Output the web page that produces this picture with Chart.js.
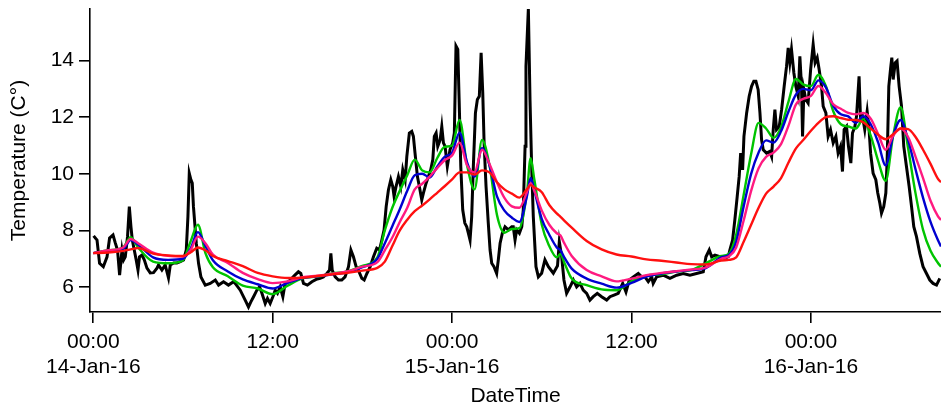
<!DOCTYPE html>
<html>
<head>
<meta charset="utf-8">
<title>Temperature</title>
<script src="https://cdn.jsdelivr.net/npm/chart.js@4.4.1/dist/chart.umd.min.js"></script>
<style>
  html, body { margin: 0; padding: 0; background: #fff; }
  #wrap { width: 941px; height: 411px; }
</style>
</head>
<body>
<div id="wrap"><canvas id="tempChart" width="941" height="411"></canvas></div>
<script>
// ===== Data (time in hours since 14-Jan-16 00:00) =====

// raw logger readings
var rawHours = [
  0.02, 0.25, 0.42, 0.67, 0.92, 1.09, 1.32, 1.47, 1.62, 1.76,
  1.92, 2.03, 2.14, 2.29, 2.41, 2.52, 2.61, 2.74, 2.87, 2.99,
  3.09, 3.26, 3.41, 3.59, 3.81, 4.03, 4.26, 4.36, 4.59, 4.81,
  5.03, 5.15, 5.37, 5.59, 5.82, 6.04, 6.22, 6.33, 6.42, 6.53,
  6.62, 6.70, 6.89, 7.04, 7.20, 7.49, 7.82, 8.16, 8.38, 8.71,
  9.04, 9.38, 9.49, 9.83, 10.16, 10.38, 10.54, 10.72, 10.94, 11.12,
  11.28, 11.50, 11.65, 11.83, 12.01, 12.17, 12.32, 12.50, 12.68, 12.83,
  13.05, 13.28, 13.50, 13.72, 13.88, 14.06, 14.32, 14.62, 14.91, 15.17,
  15.39, 15.62, 15.80, 15.89, 15.98, 16.18, 16.40, 16.62, 16.84, 17.07,
  17.23, 17.40, 17.58, 17.73, 17.96, 18.12, 18.30, 18.52, 18.74, 18.96,
  19.14, 19.30, 19.45, 19.59, 19.74, 19.90, 20.03, 20.12, 20.25, 20.41,
  20.57, 20.70, 20.86, 20.97, 21.14, 21.30, 21.41, 21.52, 21.68, 21.81,
  21.97, 22.08, 22.26, 22.41, 22.57, 22.71, 22.81, 22.93, 23.04, 23.20,
  23.31, 23.42, 23.53, 23.68, 23.86, 24.04, 24.15, 24.26, 24.38, 24.47,
  24.58, 24.71, 24.85, 24.98, 25.09, 25.20, 25.31, 25.42, 25.56, 25.69,
  25.82, 25.94, 26.05, 26.14, 26.27, 26.42, 26.54, 26.65, 26.80, 26.98,
  27.09, 27.21, 27.36, 27.54, 27.76, 27.99, 28.09, 28.21, 28.32, 28.50,
  28.66, 28.76, 28.88, 28.94, 29.10, 29.21, 29.32, 29.43, 29.61, 29.77,
  29.99, 30.21, 30.44, 30.77, 31.05, 31.17, 31.33, 31.48, 31.66, 31.89,
  32.11, 32.33, 32.55, 32.77, 33.00, 33.22, 33.44, 33.71, 34.00, 34.34,
  34.56, 34.83, 35.11, 35.41, 35.63, 35.85, 36.12, 36.45, 36.68, 36.90,
  37.12, 37.35, 37.45, 37.68, 38.12, 38.57, 39.02, 39.46, 39.91, 40.35,
  40.80, 40.98, 41.20, 41.36, 41.58, 41.91, 42.25, 42.47, 42.58, 42.76,
  42.91, 43.07, 43.20, 43.30, 43.43, 43.52, 43.70, 43.87, 44.03, 44.18,
  44.32, 44.47, 44.59, 44.70, 44.81, 45.03, 45.25, 45.37, 45.48, 45.59,
  45.70, 45.88, 46.04, 46.21, 46.37, 46.48, 46.59, 46.70, 46.86, 46.99,
  47.15, 47.26, 47.37, 47.44, 47.53, 47.66, 47.81, 47.98, 48.15, 48.28,
  48.42, 48.55, 48.71, 48.82, 49.00, 49.15, 49.31, 49.49, 49.67, 49.82,
  49.98, 50.11, 50.22, 50.38, 50.51, 50.67, 50.78, 50.94, 51.05, 51.22,
  51.32, 51.45, 51.60, 51.76, 51.89, 51.99, 52.16, 52.34, 52.47, 52.61,
  52.72, 52.87, 53.01, 53.10, 53.21, 53.32, 53.41, 53.50, 53.64, 53.76,
  53.90, 54.06, 54.21, 54.39, 54.57, 54.73, 54.88, 55.06, 55.28, 55.50,
  55.73, 55.95, 56.17, 56.40, 56.62
];
var rawTemp = [
  7.81, 7.66, 6.84, 6.72, 7.07, 7.73, 7.84, 7.56, 7.31, 6.42,
  7.31, 6.96, 7.07, 7.78, 8.84, 8.13, 7.66, 7.31, 6.96, 6.60,
  7.07, 7.13, 6.96, 6.67, 6.50, 6.51, 6.67, 6.78, 6.60, 6.78,
  6.32, 6.78, 6.85, 6.85, 6.90, 6.96, 7.31, 8.49, 10.02, 9.79,
  9.67, 8.84, 7.55, 6.84, 6.36, 6.07, 6.13, 6.25, 6.07, 6.19,
  6.07, 6.19, 6.13, 5.89, 5.54, 5.30, 5.48, 5.66, 5.89, 6.01,
  5.78, 5.42, 5.60, 5.42, 5.66, 5.89, 5.78, 6.01, 5.66, 6.13,
  6.19, 6.31, 6.43, 6.54, 6.48, 6.13, 6.07, 6.19, 6.27, 6.31,
  6.36, 6.48, 6.60, 7.19, 6.60, 6.36, 6.25, 6.25, 6.36, 6.72,
  7.31, 7.07, 6.72, 6.60, 6.31, 6.25, 6.48, 6.72, 7.07, 7.37,
  7.31, 7.66, 8.02, 8.84, 9.43, 9.79, 9.55, 9.20, 9.55, 9.90,
  9.55, 10.14, 9.79, 10.61, 11.44, 11.50, 11.32, 10.73, 9.90, 9.55,
  9.08, 9.32, 9.67, 9.90, 10.14, 10.50, 11.32, 11.44, 10.97, 11.20,
  11.67, 11.09, 10.97, 10.26, 10.85, 11.09, 11.44, 14.51, 14.39, 12.62,
  10.26, 8.73, 8.26, 8.13, 7.90, 7.66, 8.49, 10.26, 12.15, 12.62,
  12.74, 14.27, 12.86, 11.09, 9.55, 8.26, 7.31, 6.84, 6.72, 6.48,
  6.96, 7.55, 7.90, 8.13, 8.02, 8.13, 8.13, 7.66, 8.02, 7.90,
  8.13, 8.73, 10.97, 13.80, 15.83, 12.62, 10.26, 8.49, 6.72, 6.36,
  6.49, 6.96, 6.72, 6.49, 6.75, 7.60, 7.07, 6.25, 5.78, 6.01,
  6.25, 6.01, 6.13, 5.89, 5.78, 5.54, 5.66, 5.78, 5.66, 5.54,
  5.66, 5.72, 5.78, 6.13, 5.83, 6.25, 6.36, 6.48, 6.36, 6.36,
  6.19, 6.36, 6.13, 6.36, 6.42, 6.31, 6.42, 6.48, 6.42, 6.48,
  6.54, 7.07, 7.31, 7.07, 7.13, 7.07, 7.02, 7.07, 7.31, 7.66,
  8.37, 9.20, 9.90, 10.73, 10.14, 11.32, 12.15, 12.74, 13.09, 13.27,
  13.27, 12.97, 12.15, 11.20, 10.85, 10.73, 10.79, 10.61, 11.56, 12.27,
  11.56, 11.67, 12.27, 13.09, 13.80, 14.45, 13.92, 14.39, 13.56, 13.09,
  12.74, 14.15, 13.09, 11.32, 12.97, 12.62, 12.50, 13.68, 14.57, 13.92,
  14.10, 13.68, 13.09, 12.38, 12.15, 11.32, 11.56, 11.09, 11.32, 10.73,
  10.97, 10.08, 11.56, 11.67, 10.97, 10.38, 11.44, 11.67, 12.03, 13.44,
  11.91, 12.03, 11.56, 12.21, 11.56, 10.73, 10.02, 9.79, 9.32, 8.96,
  8.61, 8.84, 9.32, 10.50, 13.09, 13.68, 14.10, 13.33, 13.92, 13.98,
  13.09, 12.38, 10.97, 10.26, 9.55, 8.84, 8.13, 7.78, 7.19, 6.72,
  6.48, 6.25, 6.13, 6.07, 6.31
];

// smoothed series, all on one time base
var smoothHours = [
  0, 1, 2, 2.5, 3, 4, 5, 6, 6.5, 7,
  7.5, 8, 9, 10, 11, 12, 13, 14, 15, 16,
  17, 18, 19, 19.5, 20, 20.5, 21, 21.5, 22, 22.5,
  23, 23.5, 24, 24.5, 25, 25.5, 26, 26.5, 27, 27.5,
  28, 28.5, 29, 29.25, 29.5, 30, 30.5, 31, 31.25, 31.5,
  32, 33, 34, 35, 36, 37, 38, 39, 40, 41,
  42, 42.5, 43, 43.5, 44, 44.5, 45, 45.5, 46, 46.5,
  47, 47.5, 48, 48.5, 49, 49.5, 50, 50.5, 51, 51.5,
  52, 52.5, 53, 53.5, 54, 54.5, 55, 55.5, 56, 56.5,
  56.7
];
var greenTemp = [
  7.2, 7.3, 7.4, 7.76, 7.4, 6.9, 6.84, 6.95, 7.6, 8.2,
  7.2, 6.7, 6.38, 6.05, 5.95, 5.75, 6.05, 6.31, 6.37, 6.48,
  6.55, 6.75, 7.05, 8.0, 8.8, 9.4, 9.95, 10.5, 10.12, 10.05,
  10.55, 10.95, 11.0, 11.9, 10.3, 9.45, 11.2, 10.3, 8.55, 7.92,
  8.05, 8.08, 9.3, 10.55, 9.8, 8.2, 7.45, 7.05, 7.17, 6.87,
  6.3, 6.07, 5.92, 5.89, 6.2, 6.4, 6.45, 6.55, 6.6, 6.85,
  7.1, 7.17, 7.85, 9.25, 10.7, 11.8, 11.6, 11.27, 11.65, 12.55,
  13.35, 13.15, 13.1, 13.5, 13.1, 12.2, 11.75, 11.67, 11.6, 11.93,
  11.35, 10.45, 9.75, 11.35, 12.35, 10.9, 9.3, 8.02, 7.28, 6.85,
  6.72
];
var blueTemp = [
  7.2, 7.28, 7.35, 7.66, 7.5, 7.05, 6.96, 7.0, 7.35, 7.94,
  7.45, 6.95, 6.55, 6.27, 6.1, 5.95, 6.15, 6.32, 6.38, 6.45,
  6.52, 6.7, 7.0, 7.55, 8.15, 8.75, 9.4, 9.95, 10.0, 9.87,
  10.25, 10.6, 10.75, 11.45, 10.4, 9.9, 10.9, 10.3, 9.2, 8.7,
  8.45, 8.3, 9.2, 9.85, 9.4, 8.4, 7.85, 7.4, 7.3, 7.05,
  6.65, 6.3, 6.12, 5.98, 6.15, 6.37, 6.48, 6.55, 6.6, 6.68,
  7.05, 7.13, 7.6, 8.85, 10.0, 10.75, 11.18, 11.1, 11.5, 12.2,
  12.8, 13.0, 12.95, 13.3, 13.05, 12.4, 12.1, 12.03, 11.8, 12.03,
  11.75, 11.1, 10.3, 11.35, 11.9, 11.2, 10.15, 9.15, 8.3, 7.65,
  7.43
];
var pinkTemp = [
  7.2, 7.3, 7.4, 7.7, 7.55, 7.22, 7.1, 7.08, 7.3, 7.78,
  7.55, 7.15, 6.85, 6.5, 6.28, 6.14, 6.2, 6.35, 6.4, 6.47,
  6.55, 6.72, 6.88, 7.3, 7.75, 8.3, 8.8, 9.45, 9.65, 9.9,
  10.2, 10.48, 10.65, 11.1, 10.3, 10.05, 10.85, 10.35, 9.7, 9.15,
  8.85, 8.8, 9.35, 9.67, 9.4, 8.7, 8.2, 7.9, 7.82, 7.55,
  7.1, 6.6, 6.38, 6.2, 6.3, 6.42, 6.5, 6.56, 6.62, 6.7,
  7.0, 7.08, 7.4, 8.35, 9.4, 10.2, 10.6, 10.75, 11.05, 11.7,
  12.45, 12.65, 12.75, 13.1, 12.85, 12.45, 12.3, 12.15, 12.1, 12.15,
  11.95, 11.4, 10.85, 11.35, 11.6, 11.3, 10.6, 9.85, 9.05, 8.5,
  8.37
];
var redTemp = [
  7.2, 7.22, 7.28, 7.33, 7.38, 7.18, 7.12, 7.1, 7.22, 7.4,
  7.3, 7.1, 6.92, 6.74, 6.5, 6.38, 6.32, 6.33, 6.39, 6.45,
  6.5, 6.58, 6.68, 6.9, 7.45, 8.0, 8.38, 8.68, 8.88, 9.1,
  9.33, 9.56, 9.8, 10.05, 10.05, 9.97, 10.12, 10.05, 9.7, 9.45,
  9.3, 9.16, 9.45, 9.6, 9.52, 9.35, 8.9, 8.6, 8.48, 8.35,
  8.1, 7.63, 7.33, 7.15, 7.08, 6.98, 6.93, 6.87, 6.81, 6.8,
  6.94, 6.96, 7.05, 7.6, 8.2, 8.8, 9.3, 9.55, 9.85, 10.4,
  10.9, 11.2, 11.52, 11.8, 12.0, 12.03, 11.97, 11.91, 11.9, 11.82,
  11.6, 11.38, 11.22, 11.4, 11.6, 11.58, 11.3, 10.85, 10.35, 9.82,
  9.7
];

// axis ticks
var tickHours = [0, 12, 24, 36, 48];
var tickTimes = ['00:00', '12:00', '00:00', '12:00', '00:00'];
var tickDates = ['14-Jan-16', '', '15-Jan-16', '', '16-Jan-16'];
var tempTicks = [6, 8, 10, 12, 14];

function pts(xs, ys) {
  return xs.map(function(x, i) { return { x: x, y: ys[i] }; });
}

function smoothSet(values, color) {
  return {
    data: pts(smoothHours, values),
    borderColor: color,
    borderWidth: 2.4,
    pointRadius: 0,
    cubicInterpolationMode: 'monotone',
    fill: false,
  };
}

Chart.defaults.font.family = "'Liberation Sans', Arial, sans-serif";
Chart.defaults.font.size = 21;
Chart.defaults.color = '#000';

var axisLine = { display: true, color: '#000', width: 1.6 };
var tickMarks = {
  display: true,
  drawOnChartArea: false,
  drawTicks: true,
  tickLength: 11,
  color: '#000',
  lineWidth: 1.6,
};

new Chart(document.getElementById('tempChart'), {
  type: 'line',
  data: {
    // first dataset is painted last, so red sits on top and raw data underneath
    datasets: [
      smoothSet(redTemp, '#ff1010'),
      smoothSet(pinkTemp, '#ff1a80'),
      smoothSet(blueTemp, '#0000d0'),
      smoothSet(greenTemp, '#00c400'),
      {
        data: pts(rawHours, rawTemp),
        borderColor: '#000',
        borderWidth: 3,
        pointRadius: 0,
        tension: 0,
        fill: false,
      },
    ],
  },
  options: {
    responsive: false,
    animation: false,
    events: [],
    layout: { padding: { top: 9, right: 0, bottom: 0, left: 0 } },
    plugins: {
      legend: { display: false },
      tooltip: { enabled: false },
    },
    scales: {
      x: {
        type: 'linear',
        min: -0.22,
        max: 56.7,
        border: axisLine,
        grid: tickMarks,
        afterBuildTicks: function(scale) {
          scale.ticks = tickHours.map(function(v) { return { value: v }; });
        },
        afterFit: function(scale) { scale.height = 99; },
        ticks: {
          padding: 7,
          maxRotation: 0,
          autoSkip: false,
          font: { size: 21, lineHeight: 1.17 },
          callback: function(v) {
            var i = tickHours.indexOf(v);
            if (i < 0) return '';
            return tickDates[i] ? [tickTimes[i], tickDates[i]] : tickTimes[i];
          },
        },
        title: {
          display: true,
          text: 'DateTime',
          font: { size: 21 },
          padding: { top: 0, bottom: 2 },
        },
      },
      y: {
        min: 5.12,
        max: 15.82,
        border: axisLine,
        grid: tickMarks,
        afterBuildTicks: function(scale) {
          scale.ticks = tempTicks.map(function(v) { return { value: v }; });
        },
        afterFit: function(scale) {
          scale.width = 90;
          // keep the plot top flush with the layout padding
          scale.paddingTop = 0;
        },
        ticks: {
          padding: 5,
          // single-line labels; small line height keeps the top label from reserving space
          font: { size: 21, lineHeight: 0.7 },
        },
        title: {
          display: true,
          text: 'Temperature (C°)',
          font: { size: 21 },
          padding: { top: 7, bottom: 0 },
        },
      },
    },
  },
});
</script>
</body>
</html>
